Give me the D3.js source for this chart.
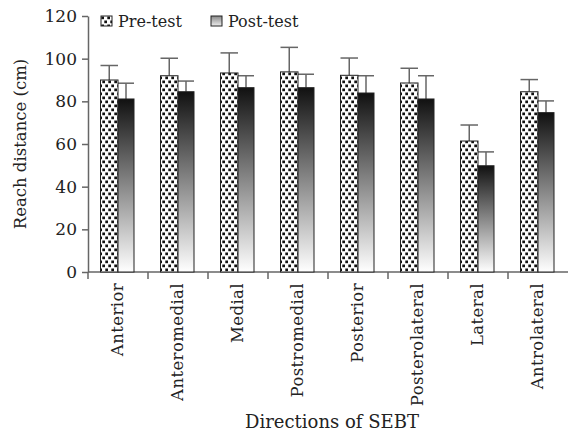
<!DOCTYPE html>
<html>
<head>
    <script src="https://cdn.jsdelivr.net/npm/d3@7"></script>
    <style>
        body { margin: 0; background: #fff; }
        text { font-family: "DejaVu Serif", serif; }
    </style>
</head>
<body>
    <svg width="568" height="433"></svg>
    <script>
        const categories = ['Anterior', 'Anteromedial', 'Medial', 'Postromedial', 'Posterior', 'Posterolateral', 'Lateral', 'Antrolateral']
        const preTest = [90, 92, 93.3, 93.8, 92.2, 88.6, 61.4, 84.5]
        const preSD = [6.8, 8.2, 9.4, 11.5, 8.1, 6.9, 7.5, 5.7]
        const postTest = [81.1, 84.5, 86.4, 86.4, 83.9, 81.1, 49.8, 74.7]
        const postSD = [7.4, 5.0, 5.6, 6.3, 8.1, 10.9, 6.5, 5.5]
        const yTicks = [0, 20, 40, 60, 80, 100, 120]

        const svg = d3.select('svg')
        const defs = svg.append('defs')

        // dotted fill for pre-test
        const pat = defs.append('pattern')
            .attr('id', 'dots')
            .attr('patternUnits', 'userSpaceOnUse')
            .attr('width', 6).attr('height', 8)
        pat.append('rect').attr('width', 6).attr('height', 8).attr('fill', '#fff')
        pat.append('rect').attr('x', 0.3).attr('y', 0.5).attr('width', 2.7).attr('height', 2.7).attr('fill', '#111')
        pat.append('rect').attr('x', 3.3).attr('y', 4.5).attr('width', 2.7).attr('height', 2.7).attr('fill', '#111')

        // dark-to-white gradient for post-test
        const grad = defs.append('linearGradient')
            .attr('id', 'fade')
            .attr('x1', 0).attr('y1', 0).attr('x2', 0).attr('y2', 1)
        grad.append('stop').attr('offset', '0%').attr('stop-color', '#111')
        grad.append('stop').attr('offset', '100%').attr('stop-color', '#fff')

        const gradL = defs.append('linearGradient')
            .attr('id', 'fadeLegend')
            .attr('x1', 0).attr('y1', 0).attr('x2', 0).attr('y2', 1)
        gradL.append('stop').attr('offset', '0%').attr('stop-color', '#888')
        gradL.append('stop').attr('offset', '100%').attr('stop-color', '#eee')

        const x = d3.scaleBand().domain(categories).range([88, 568]).padding(0)
        const y = d3.scaleLinear().domain([0, 120]).range([272, 16])

        const AXIS = '#666'

        // y axis
        const yAxis = svg.append('g')
            .attr('transform', 'translate(88,0)')
            .call(d3.axisLeft(y).tickValues(yTicks).tickSize(6).tickSizeOuter(0))
        yAxis.select('.domain').attr('stroke', AXIS).attr('stroke-width', 1.5)
        yAxis.selectAll('.tick line').attr('stroke', AXIS).attr('stroke-width', 1.5)
        yAxis.selectAll('.tick text')
            .attr('x', -11)
            .style('font-family', '"DejaVu Serif", serif')
            .style('font-size', '17px')
            .attr('fill', '#222')

        // x axis line and boundary ticks
        svg.append('line')
            .attr('x1', 88).attr('x2', 568)
            .attr('y1', y(0)).attr('y2', y(0))
            .attr('stroke', AXIS).attr('stroke-width', 1.5)
        svg.selectAll('.xtick').data(categories)
            .join('line')
            .attr('class', 'xtick')
            .attr('x1', d => x(d)).attr('x2', d => x(d))
            .attr('y1', y(0)).attr('y2', y(0) + 7)
            .attr('stroke', AXIS).attr('stroke-width', 1.5)

        svg.selectAll('.xlabel').data(categories)
            .join('text')
            .attr('class', 'xlabel')
            .attr('transform', d => `translate(${x(d) + x.bandwidth() / 2 + 5},283) rotate(-90)`)
            .attr('text-anchor', 'end')
            .style('font-size', '16.5px')
            .style('letter-spacing', '0.4px')
            .attr('fill', '#222')
            .text(d => d)

        const preOff = 12.5, preW = 17.5, postW = 16

        const groups = svg.selectAll('.cat').data(categories)
            .join('g')
            .attr('class', 'cat')

        // error bars (upper only)
        groups.each((d, i, n) => {
            const g = d3.select(n[i])
            const bars = [
                { x0: x(d) + preOff, w: preW, v: preTest[i], sd: preSD[i] },
                { x0: x(d) + preOff + preW, w: postW, v: postTest[i], sd: postSD[i] }
            ]
            g.selectAll('.err').data(bars).join('line')
                .attr('class', 'err')
                .attr('x1', b => b.x0 + b.w / 2).attr('x2', b => b.x0 + b.w / 2)
                .attr('y1', b => y(b.v)).attr('y2', b => y(b.v + b.sd))
                .attr('stroke', '#666').attr('stroke-width', 1.5)
            g.selectAll('.cap').data(bars).join('line')
                .attr('class', 'cap')
                .attr('x1', b => b.x0).attr('x2', b => b.x0 + b.w)
                .attr('y1', b => y(b.v + b.sd)).attr('y2', b => y(b.v + b.sd))
                .attr('stroke', '#666').attr('stroke-width', 1.5)
        })

        groups.append('rect')
            .attr('x', d => x(d) + preOff)
            .attr('width', preW)
            .attr('y', (d, i) => y(preTest[i]))
            .attr('height', (d, i) => y(0) - y(preTest[i]))
            .attr('fill', 'url(#dots)')
            .attr('stroke', '#222').attr('stroke-width', 1)

        groups.append('rect')
            .attr('x', d => x(d) + preOff + preW)
            .attr('width', postW)
            .attr('y', (d, i) => y(postTest[i]))
            .attr('height', (d, i) => y(0) - y(postTest[i]))
            .attr('fill', 'url(#fade)')
            .attr('stroke', '#222').attr('stroke-width', 1)

        // legend
        const legend = [
            { label: 'Pre-test', fill: 'url(#dots)', x: 101 },
            { label: 'Post-test', fill: 'url(#fadeLegend)', x: 211 }
        ]
        const lg = svg.selectAll('.legend').data(legend).join('g')
            .attr('class', 'legend')
            .attr('transform', d => `translate(${d.x},16)`)
        lg.append('rect')
            .attr('width', 11).attr('height', 10)
            .attr('fill', d => d.fill)
            .attr('stroke', '#222').attr('stroke-width', 1)
        lg.append('text')
            .attr('x', 17).attr('y', 11)
            .style('font-size', '16px')
            .attr('fill', '#222')
            .text(d => d.label)

        // axis titles
        svg.append('text')
            .attr('transform', 'translate(26,144) rotate(-90)')
            .attr('text-anchor', 'middle')
            .style('font-size', '16.5px')
            .attr('fill', '#222')
            .text('Reach distance (cm)')
        svg.append('text')
            .attr('x', 332).attr('y', 428)
            .attr('text-anchor', 'middle')
            .style('font-size', '18px')
            .attr('fill', '#222')
            .text('Directions of SEBT')
    </script>
</body>
</html>
